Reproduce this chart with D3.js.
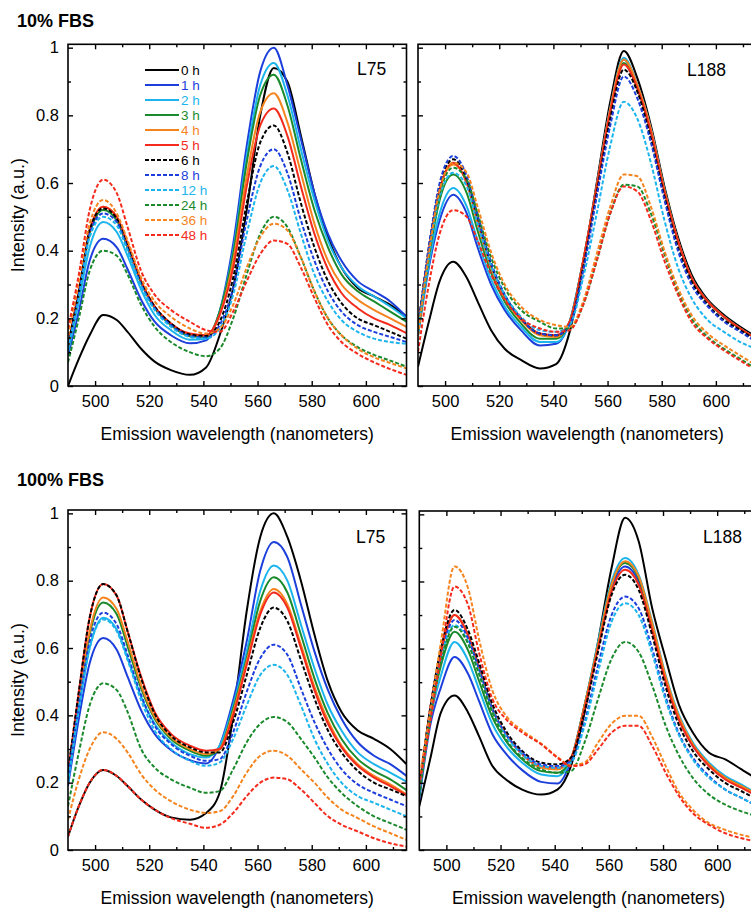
<!DOCTYPE html>
<html>
<head>
<meta charset="utf-8">
<script src="https://cdnjs.cloudflare.com/ajax/libs/d3/7.8.5/d3.min.js"></script>
<style>
  body { margin: 0; background: #fff; }
</style>
</head>
<body>
<div id="chart"></div>
<script>
// shared wavelength grid (nm)
const wavelengths = [490, 494, 498, 503, 508, 512, 517, 522, 528, 535, 541, 546, 551, 556, 561, 566, 571, 576, 581, 586, 591, 597, 603, 609, 615];

const timeLabels = ['0 h', '1 h', '2 h', '3 h', '4 h', '5 h', '6 h', '8 h', '12 h', '24 h', '36 h', '48 h'];
const lineColors = ['#000000', '#1c3fdc', '#1cb4ec', '#1a8a2c', '#f5841f', '#f42b1c',
                    '#000000', '#1c3fdc', '#1cb4ec', '#1a8a2c', '#f5841f', '#f42b1c'];
const isDashed = [false, false, false, false, false, false, true, true, true, true, true, true];

// 10% FBS, L75
const fbs10L75 = [
  [0.00, 0.08, 0.15, 0.21, 0.195, 0.16, 0.11, 0.072, 0.047, 0.033, 0.055, 0.15, 0.29, 0.52, 0.80, 0.94, 0.90, 0.74, 0.57, 0.44, 0.35, 0.29, 0.265, 0.24, 0.205],
  [0.09, 0.22, 0.37, 0.435, 0.41, 0.345, 0.255, 0.19, 0.15, 0.126, 0.135, 0.22, 0.42, 0.71, 0.93, 1.0, 0.89, 0.73, 0.57, 0.45, 0.37, 0.31, 0.28, 0.25, 0.205],
  [0.10, 0.25, 0.41, 0.485, 0.455, 0.385, 0.285, 0.21, 0.165, 0.137, 0.14, 0.22, 0.40, 0.68, 0.89, 0.955, 0.86, 0.70, 0.55, 0.43, 0.35, 0.295, 0.265, 0.235, 0.20],
  [0.11, 0.27, 0.45, 0.52, 0.49, 0.41, 0.305, 0.23, 0.18, 0.147, 0.145, 0.22, 0.39, 0.66, 0.86, 0.92, 0.83, 0.67, 0.52, 0.41, 0.33, 0.28, 0.25, 0.22, 0.19],
  [0.12, 0.28, 0.46, 0.53, 0.50, 0.42, 0.31, 0.235, 0.185, 0.152, 0.148, 0.21, 0.37, 0.62, 0.81, 0.865, 0.78, 0.63, 0.48, 0.37, 0.30, 0.255, 0.225, 0.20, 0.175],
  [0.12, 0.28, 0.46, 0.53, 0.50, 0.42, 0.31, 0.235, 0.185, 0.155, 0.15, 0.21, 0.35, 0.59, 0.77, 0.82, 0.74, 0.59, 0.45, 0.345, 0.275, 0.23, 0.20, 0.18, 0.156],
  [0.12, 0.28, 0.46, 0.525, 0.495, 0.415, 0.305, 0.235, 0.185, 0.152, 0.148, 0.19, 0.32, 0.54, 0.72, 0.77, 0.69, 0.54, 0.41, 0.31, 0.245, 0.20, 0.18, 0.16, 0.14],
  [0.11, 0.27, 0.45, 0.51, 0.485, 0.405, 0.30, 0.23, 0.18, 0.148, 0.143, 0.18, 0.29, 0.49, 0.65, 0.70, 0.63, 0.49, 0.37, 0.28, 0.22, 0.18, 0.16, 0.145, 0.13],
  [0.11, 0.26, 0.44, 0.50, 0.475, 0.40, 0.295, 0.225, 0.175, 0.145, 0.14, 0.17, 0.27, 0.45, 0.60, 0.65, 0.58, 0.45, 0.33, 0.25, 0.195, 0.16, 0.14, 0.13, 0.125],
  [0.07, 0.20, 0.34, 0.40, 0.385, 0.33, 0.24, 0.175, 0.13, 0.10, 0.088, 0.11, 0.20, 0.33, 0.45, 0.50, 0.47, 0.38, 0.28, 0.20, 0.15, 0.115, 0.092, 0.075, 0.057],
  [0.15, 0.31, 0.48, 0.55, 0.51, 0.43, 0.32, 0.25, 0.205, 0.17, 0.155, 0.17, 0.24, 0.35, 0.44, 0.48, 0.46, 0.38, 0.28, 0.20, 0.15, 0.11, 0.085, 0.068, 0.052],
  [0.17, 0.33, 0.52, 0.61, 0.57, 0.47, 0.34, 0.27, 0.225, 0.19, 0.165, 0.16, 0.22, 0.31, 0.39, 0.43, 0.42, 0.35, 0.26, 0.18, 0.13, 0.095, 0.07, 0.05, 0.033]
];

// 10% FBS, L188
const fbs10L188 = [
  [0.057, 0.19, 0.31, 0.367, 0.32, 0.25, 0.165, 0.11, 0.077, 0.052, 0.065, 0.16, 0.36, 0.60, 0.84, 0.99, 0.91, 0.77, 0.59, 0.44, 0.33, 0.255, 0.21, 0.175, 0.145],
  [0.15, 0.35, 0.49, 0.565, 0.51, 0.41, 0.30, 0.225, 0.165, 0.12, 0.125, 0.19, 0.37, 0.59, 0.82, 0.965, 0.89, 0.76, 0.58, 0.43, 0.32, 0.25, 0.205, 0.17, 0.14],
  [0.15, 0.36, 0.51, 0.585, 0.53, 0.43, 0.315, 0.235, 0.175, 0.13, 0.13, 0.19, 0.37, 0.59, 0.82, 0.97, 0.89, 0.76, 0.58, 0.43, 0.32, 0.25, 0.205, 0.17, 0.14],
  [0.16, 0.38, 0.55, 0.625, 0.57, 0.46, 0.335, 0.25, 0.185, 0.14, 0.14, 0.19, 0.37, 0.59, 0.81, 0.955, 0.88, 0.75, 0.58, 0.43, 0.32, 0.25, 0.205, 0.17, 0.14],
  [0.17, 0.40, 0.58, 0.655, 0.60, 0.48, 0.35, 0.26, 0.195, 0.15, 0.145, 0.19, 0.37, 0.59, 0.82, 0.965, 0.89, 0.76, 0.58, 0.43, 0.32, 0.25, 0.205, 0.17, 0.14],
  [0.17, 0.40, 0.58, 0.66, 0.60, 0.49, 0.355, 0.265, 0.20, 0.155, 0.15, 0.19, 0.37, 0.59, 0.81, 0.95, 0.88, 0.75, 0.575, 0.43, 0.32, 0.25, 0.205, 0.17, 0.14],
  [0.17, 0.41, 0.59, 0.67, 0.61, 0.50, 0.36, 0.27, 0.20, 0.155, 0.15, 0.18, 0.35, 0.57, 0.79, 0.935, 0.87, 0.73, 0.56, 0.41, 0.31, 0.24, 0.195, 0.165, 0.135],
  [0.17, 0.41, 0.60, 0.68, 0.62, 0.505, 0.365, 0.27, 0.20, 0.155, 0.15, 0.18, 0.34, 0.56, 0.77, 0.915, 0.85, 0.72, 0.55, 0.40, 0.30, 0.235, 0.19, 0.16, 0.13],
  [0.16, 0.38, 0.56, 0.63, 0.59, 0.48, 0.355, 0.27, 0.205, 0.165, 0.16, 0.18, 0.32, 0.51, 0.71, 0.84, 0.79, 0.66, 0.49, 0.35, 0.26, 0.195, 0.16, 0.13, 0.11],
  [0.15, 0.38, 0.57, 0.645, 0.61, 0.51, 0.38, 0.29, 0.225, 0.19, 0.17, 0.17, 0.24, 0.37, 0.51, 0.595, 0.59, 0.51, 0.39, 0.28, 0.20, 0.145, 0.11, 0.08, 0.05],
  [0.15, 0.39, 0.58, 0.66, 0.63, 0.53, 0.395, 0.30, 0.235, 0.195, 0.18, 0.175, 0.25, 0.39, 0.53, 0.625, 0.62, 0.53, 0.40, 0.29, 0.21, 0.155, 0.12, 0.09, 0.06],
  [0.10, 0.30, 0.45, 0.52, 0.50, 0.43, 0.33, 0.255, 0.20, 0.17, 0.16, 0.165, 0.24, 0.37, 0.51, 0.59, 0.575, 0.49, 0.37, 0.27, 0.19, 0.14, 0.105, 0.075, 0.045]
];

// 100% FBS, L75
const fbs100L75 = [
  [0.04, 0.13, 0.20, 0.238, 0.22, 0.19, 0.15, 0.12, 0.097, 0.09, 0.11, 0.17, 0.40, 0.71, 0.93, 1.0, 0.93, 0.80, 0.64, 0.50, 0.41, 0.355, 0.33, 0.30, 0.255],
  [0.19, 0.39, 0.555, 0.63, 0.595, 0.515, 0.415, 0.345, 0.297, 0.267, 0.257, 0.31, 0.445, 0.62, 0.83, 0.915, 0.87, 0.73, 0.59, 0.475, 0.39, 0.32, 0.28, 0.255, 0.22],
  [0.20, 0.42, 0.60, 0.69, 0.655, 0.57, 0.455, 0.375, 0.32, 0.285, 0.275, 0.31, 0.43, 0.59, 0.77, 0.845, 0.80, 0.67, 0.54, 0.43, 0.355, 0.29, 0.255, 0.23, 0.203],
  [0.21, 0.44, 0.64, 0.735, 0.70, 0.605, 0.48, 0.39, 0.33, 0.295, 0.28, 0.30, 0.42, 0.57, 0.74, 0.81, 0.765, 0.64, 0.51, 0.405, 0.33, 0.27, 0.235, 0.21, 0.178],
  [0.22, 0.45, 0.65, 0.75, 0.715, 0.62, 0.49, 0.395, 0.335, 0.30, 0.285, 0.30, 0.41, 0.56, 0.71, 0.775, 0.73, 0.61, 0.485, 0.385, 0.31, 0.255, 0.22, 0.195, 0.165],
  [0.23, 0.47, 0.69, 0.79, 0.755, 0.65, 0.515, 0.41, 0.345, 0.31, 0.295, 0.30, 0.40, 0.55, 0.70, 0.765, 0.72, 0.60, 0.475, 0.375, 0.305, 0.25, 0.215, 0.19, 0.163],
  [0.23, 0.47, 0.69, 0.79, 0.755, 0.65, 0.51, 0.405, 0.34, 0.305, 0.29, 0.29, 0.38, 0.52, 0.66, 0.72, 0.68, 0.565, 0.45, 0.355, 0.29, 0.235, 0.20, 0.18, 0.16],
  [0.21, 0.43, 0.62, 0.705, 0.67, 0.58, 0.46, 0.37, 0.315, 0.28, 0.265, 0.27, 0.35, 0.47, 0.57, 0.61, 0.58, 0.48, 0.38, 0.30, 0.24, 0.195, 0.17, 0.15, 0.13],
  [0.20, 0.42, 0.60, 0.685, 0.65, 0.565, 0.445, 0.355, 0.30, 0.265, 0.25, 0.26, 0.33, 0.43, 0.52, 0.55, 0.52, 0.43, 0.33, 0.255, 0.20, 0.16, 0.14, 0.12, 0.10],
  [0.13, 0.29, 0.43, 0.495, 0.475, 0.41, 0.30, 0.245, 0.21, 0.185, 0.17, 0.175, 0.24, 0.32, 0.375, 0.395, 0.38, 0.33, 0.275, 0.215, 0.17, 0.13, 0.10, 0.08, 0.06],
  [0.09, 0.21, 0.30, 0.35, 0.33, 0.29, 0.225, 0.18, 0.145, 0.12, 0.11, 0.115, 0.16, 0.23, 0.28, 0.295, 0.28, 0.24, 0.20, 0.155, 0.12, 0.095, 0.07, 0.05, 0.03],
  [0.04, 0.13, 0.20, 0.238, 0.22, 0.19, 0.15, 0.12, 0.095, 0.078, 0.066, 0.075, 0.11, 0.16, 0.20, 0.215, 0.21, 0.18, 0.14, 0.10, 0.075, 0.055, 0.035, 0.02, 0.01]
];

// 100% FBS, L188
const fbs100L188 = [
  [0.13, 0.27, 0.41, 0.46, 0.41, 0.34, 0.25, 0.21, 0.18, 0.165, 0.18, 0.25, 0.41, 0.62, 0.84, 0.99, 0.92, 0.72, 0.57, 0.43, 0.35, 0.29, 0.27, 0.24, 0.21],
  [0.15, 0.37, 0.485, 0.575, 0.525, 0.445, 0.345, 0.287, 0.238, 0.203, 0.198, 0.267, 0.43, 0.61, 0.78, 0.845, 0.80, 0.66, 0.51, 0.39, 0.31, 0.255, 0.215, 0.19, 0.16],
  [0.16, 0.39, 0.52, 0.62, 0.565, 0.48, 0.375, 0.31, 0.26, 0.225, 0.22, 0.27, 0.43, 0.62, 0.80, 0.87, 0.82, 0.68, 0.52, 0.40, 0.32, 0.26, 0.22, 0.195, 0.165],
  [0.17, 0.40, 0.55, 0.65, 0.595, 0.505, 0.395, 0.325, 0.27, 0.235, 0.23, 0.27, 0.43, 0.61, 0.79, 0.855, 0.81, 0.67, 0.51, 0.39, 0.315, 0.255, 0.215, 0.19, 0.165],
  [0.18, 0.42, 0.59, 0.70, 0.64, 0.545, 0.42, 0.345, 0.285, 0.245, 0.24, 0.275, 0.43, 0.61, 0.79, 0.86, 0.815, 0.675, 0.515, 0.395, 0.315, 0.255, 0.215, 0.19, 0.165],
  [0.18, 0.42, 0.59, 0.70, 0.64, 0.545, 0.42, 0.345, 0.285, 0.25, 0.245, 0.275, 0.42, 0.60, 0.77, 0.835, 0.79, 0.655, 0.50, 0.385, 0.31, 0.25, 0.21, 0.185, 0.16],
  [0.18, 0.42, 0.60, 0.715, 0.655, 0.56, 0.435, 0.355, 0.295, 0.26, 0.255, 0.275, 0.41, 0.59, 0.76, 0.82, 0.775, 0.64, 0.485, 0.37, 0.295, 0.24, 0.20, 0.175, 0.15],
  [0.17, 0.41, 0.58, 0.685, 0.63, 0.54, 0.42, 0.345, 0.29, 0.255, 0.25, 0.265, 0.38, 0.55, 0.70, 0.755, 0.72, 0.60, 0.455, 0.345, 0.275, 0.22, 0.18, 0.155, 0.13],
  [0.17, 0.40, 0.57, 0.67, 0.62, 0.53, 0.415, 0.34, 0.285, 0.25, 0.245, 0.26, 0.37, 0.53, 0.68, 0.735, 0.70, 0.585, 0.445, 0.34, 0.27, 0.215, 0.18, 0.155, 0.13],
  [0.16, 0.39, 0.56, 0.665, 0.615, 0.525, 0.41, 0.33, 0.275, 0.24, 0.23, 0.235, 0.32, 0.45, 0.57, 0.62, 0.59, 0.49, 0.37, 0.28, 0.215, 0.165, 0.135, 0.115, 0.10],
  [0.21, 0.41, 0.62, 0.845, 0.78, 0.63, 0.475, 0.40, 0.356, 0.317, 0.277, 0.252, 0.26, 0.32, 0.376, 0.40, 0.40, 0.337, 0.25, 0.17, 0.12, 0.08, 0.06, 0.045, 0.035],
  [0.19, 0.38, 0.58, 0.785, 0.73, 0.59, 0.45, 0.39, 0.35, 0.315, 0.275, 0.25, 0.255, 0.30, 0.35, 0.37, 0.37, 0.31, 0.23, 0.16, 0.11, 0.075, 0.05, 0.035, 0.025]
];

const xTicksMajor = [500, 520, 540, 560, 580, 600];
const xTicksMinor = [510, 530, 550, 570, 590, 610];
const yTicksMajor = [0, 0.2, 0.4, 0.6, 0.8, 1];
const yTicksMinor = [0.1, 0.3, 0.5, 0.7, 0.9];

const FONT = '"Liberation Sans", Arial, Helvetica, sans-serif';
const W = 751, H = 914;

const svg = d3.select('#chart').append('svg')
  .attr('width', W).attr('height', H)
  .attr('font-family', FONT);

const panels = [
  { data: fbs10L75, left: 68, right: 406.5, top: 44.3, bottom: 386, name: 'L75', lx: 357, ly: 75, yLabels: true, legend: true },
  { data: fbs10L188, left: 418, right: 756.5, top: 44.3, bottom: 386, name: 'L188', lx: 687, ly: 76 },
  { data: fbs100L75, left: 68, right: 406.5, top: 510, bottom: 850, name: 'L75', lx: 356, ly: 543, yLabels: true },
  { data: fbs100L188, left: 419.3, right: 757.8, top: 511, bottom: 850, name: 'L188', lx: 703, ly: 543 }
];

// group titles
svg.append('text').attr('x', 17).attr('y', 26.5).attr('font-size', 18).attr('font-weight', 'bold').text('10% FBS');
svg.append('text').attr('x', 17).attr('y', 485.5).attr('font-size', 18).attr('font-weight', 'bold').text('100% FBS');

panels.forEach((p, pi) => {
  const x = d3.scaleLinear().domain([490, 615]).range([p.left, p.right]);
  const y = d3.scaleLinear().domain([0, 1.01]).range([p.bottom, p.top]);
  const g = svg.append('g');

  const clipId = 'clip' + pi;
  g.append('clipPath').attr('id', clipId).append('rect')
    .attr('x', p.left).attr('y', p.top).attr('width', p.right - p.left).attr('height', p.bottom - p.top);

  const line = d3.line()
    .x((d, i) => x(wavelengths[i]))
    .y(d => y(d))
    .curve(d3.curveMonotoneX);

  g.append('g').attr('clip-path', `url(#${clipId})`)
    .selectAll('path').data(p.data).join('path')
    .attr('d', line)
    .attr('fill', 'none')
    .attr('stroke', (d, i) => lineColors[i])
    .attr('stroke-width', 2)
    .attr('stroke-dasharray', (d, i) => isDashed[i] ? '4,2' : null);

  // axes with inward ticks
  const styleAxis = sel => {
    sel.select('.domain').remove();
    sel.selectAll('line').attr('stroke', '#000').attr('stroke-width', 1.4);
    sel.selectAll('text').attr('font-family', FONT).attr('font-size', 16.5).attr('fill', '#000');
  };
  g.append('g').attr('transform', `translate(0,${p.bottom})`)
    .call(d3.axisBottom(x).tickValues(xTicksMajor).tickSizeInner(-5).tickSizeOuter(0).tickPadding(9.5).tickFormat(d3.format('d')))
    .call(styleAxis);
  g.append('g').attr('transform', `translate(0,${p.bottom})`)
    .call(d3.axisBottom(x).tickValues(xTicksMinor).tickSizeInner(-3).tickSizeOuter(0).tickFormat(''))
    .call(styleAxis);
  g.append('g').attr('transform', `translate(0,${p.top})`)
    .call(d3.axisTop(x).tickValues(xTicksMajor).tickSizeInner(-5).tickSizeOuter(0).tickFormat(''))
    .call(styleAxis);
  g.append('g').attr('transform', `translate(0,${p.top})`)
    .call(d3.axisTop(x).tickValues(xTicksMinor).tickSizeInner(-3).tickSizeOuter(0).tickFormat(''))
    .call(styleAxis);
  g.append('g').attr('transform', `translate(${p.left},0)`)
    .call(d3.axisLeft(y).tickValues(yTicksMajor).tickSizeInner(-5).tickSizeOuter(0).tickPadding(9)
      .tickFormat(p.yLabels ? d3.format('~g') : ''))
    .call(styleAxis);
  g.append('g').attr('transform', `translate(${p.left},0)`)
    .call(d3.axisLeft(y).tickValues(yTicksMinor).tickSizeInner(-3).tickSizeOuter(0).tickFormat(''))
    .call(styleAxis);
  g.append('g').attr('transform', `translate(${p.right},0)`)
    .call(d3.axisRight(y).tickValues(yTicksMajor).tickSizeInner(-5).tickSizeOuter(0).tickFormat(''))
    .call(styleAxis);
  g.append('g').attr('transform', `translate(${p.right},0)`)
    .call(d3.axisRight(y).tickValues(yTicksMinor).tickSizeInner(-3).tickSizeOuter(0).tickFormat(''))
    .call(styleAxis);

  // frame
  g.append('rect')
    .attr('x', p.left).attr('y', p.top)
    .attr('width', p.right - p.left).attr('height', p.bottom - p.top)
    .attr('fill', 'none').attr('stroke', '#000').attr('stroke-width', 1.6);

  // panel label
  g.append('text').attr('x', p.lx).attr('y', p.ly).attr('font-size', 17.5).text(p.name);

  // x axis title
  g.append('text')
    .attr('x', (p.left + p.right) / 2).attr('y', p.bottom + 54)
    .attr('text-anchor', 'middle').attr('font-size', 17.5)
    .text('Emission wavelength (nanometers)');

  // y axis title
  if (p.yLabels) {
    g.append('text')
      .attr('transform', `translate(24,${(p.top + p.bottom) / 2}) rotate(-90)`)
      .attr('text-anchor', 'middle').attr('font-size', 18)
      .text('Intensity (a.u.)');
  }

  // legend
  if (p.legend) {
    const lg = g.append('g');
    timeLabels.forEach((t, i) => {
      const ry = 70 + i * 15;
      lg.append('line')
        .attr('x1', 145).attr('x2', 179).attr('y1', ry).attr('y2', ry)
        .attr('stroke', lineColors[i]).attr('stroke-width', 2)
        .attr('stroke-dasharray', isDashed[i] ? '4,2' : null);
      lg.append('text')
        .attr('x', 181).attr('y', ry + 4.8)
        .attr('font-size', 13.5).attr('fill', lineColors[i])
        .text(t);
    });
  }
});
</script>
</body>
</html>
